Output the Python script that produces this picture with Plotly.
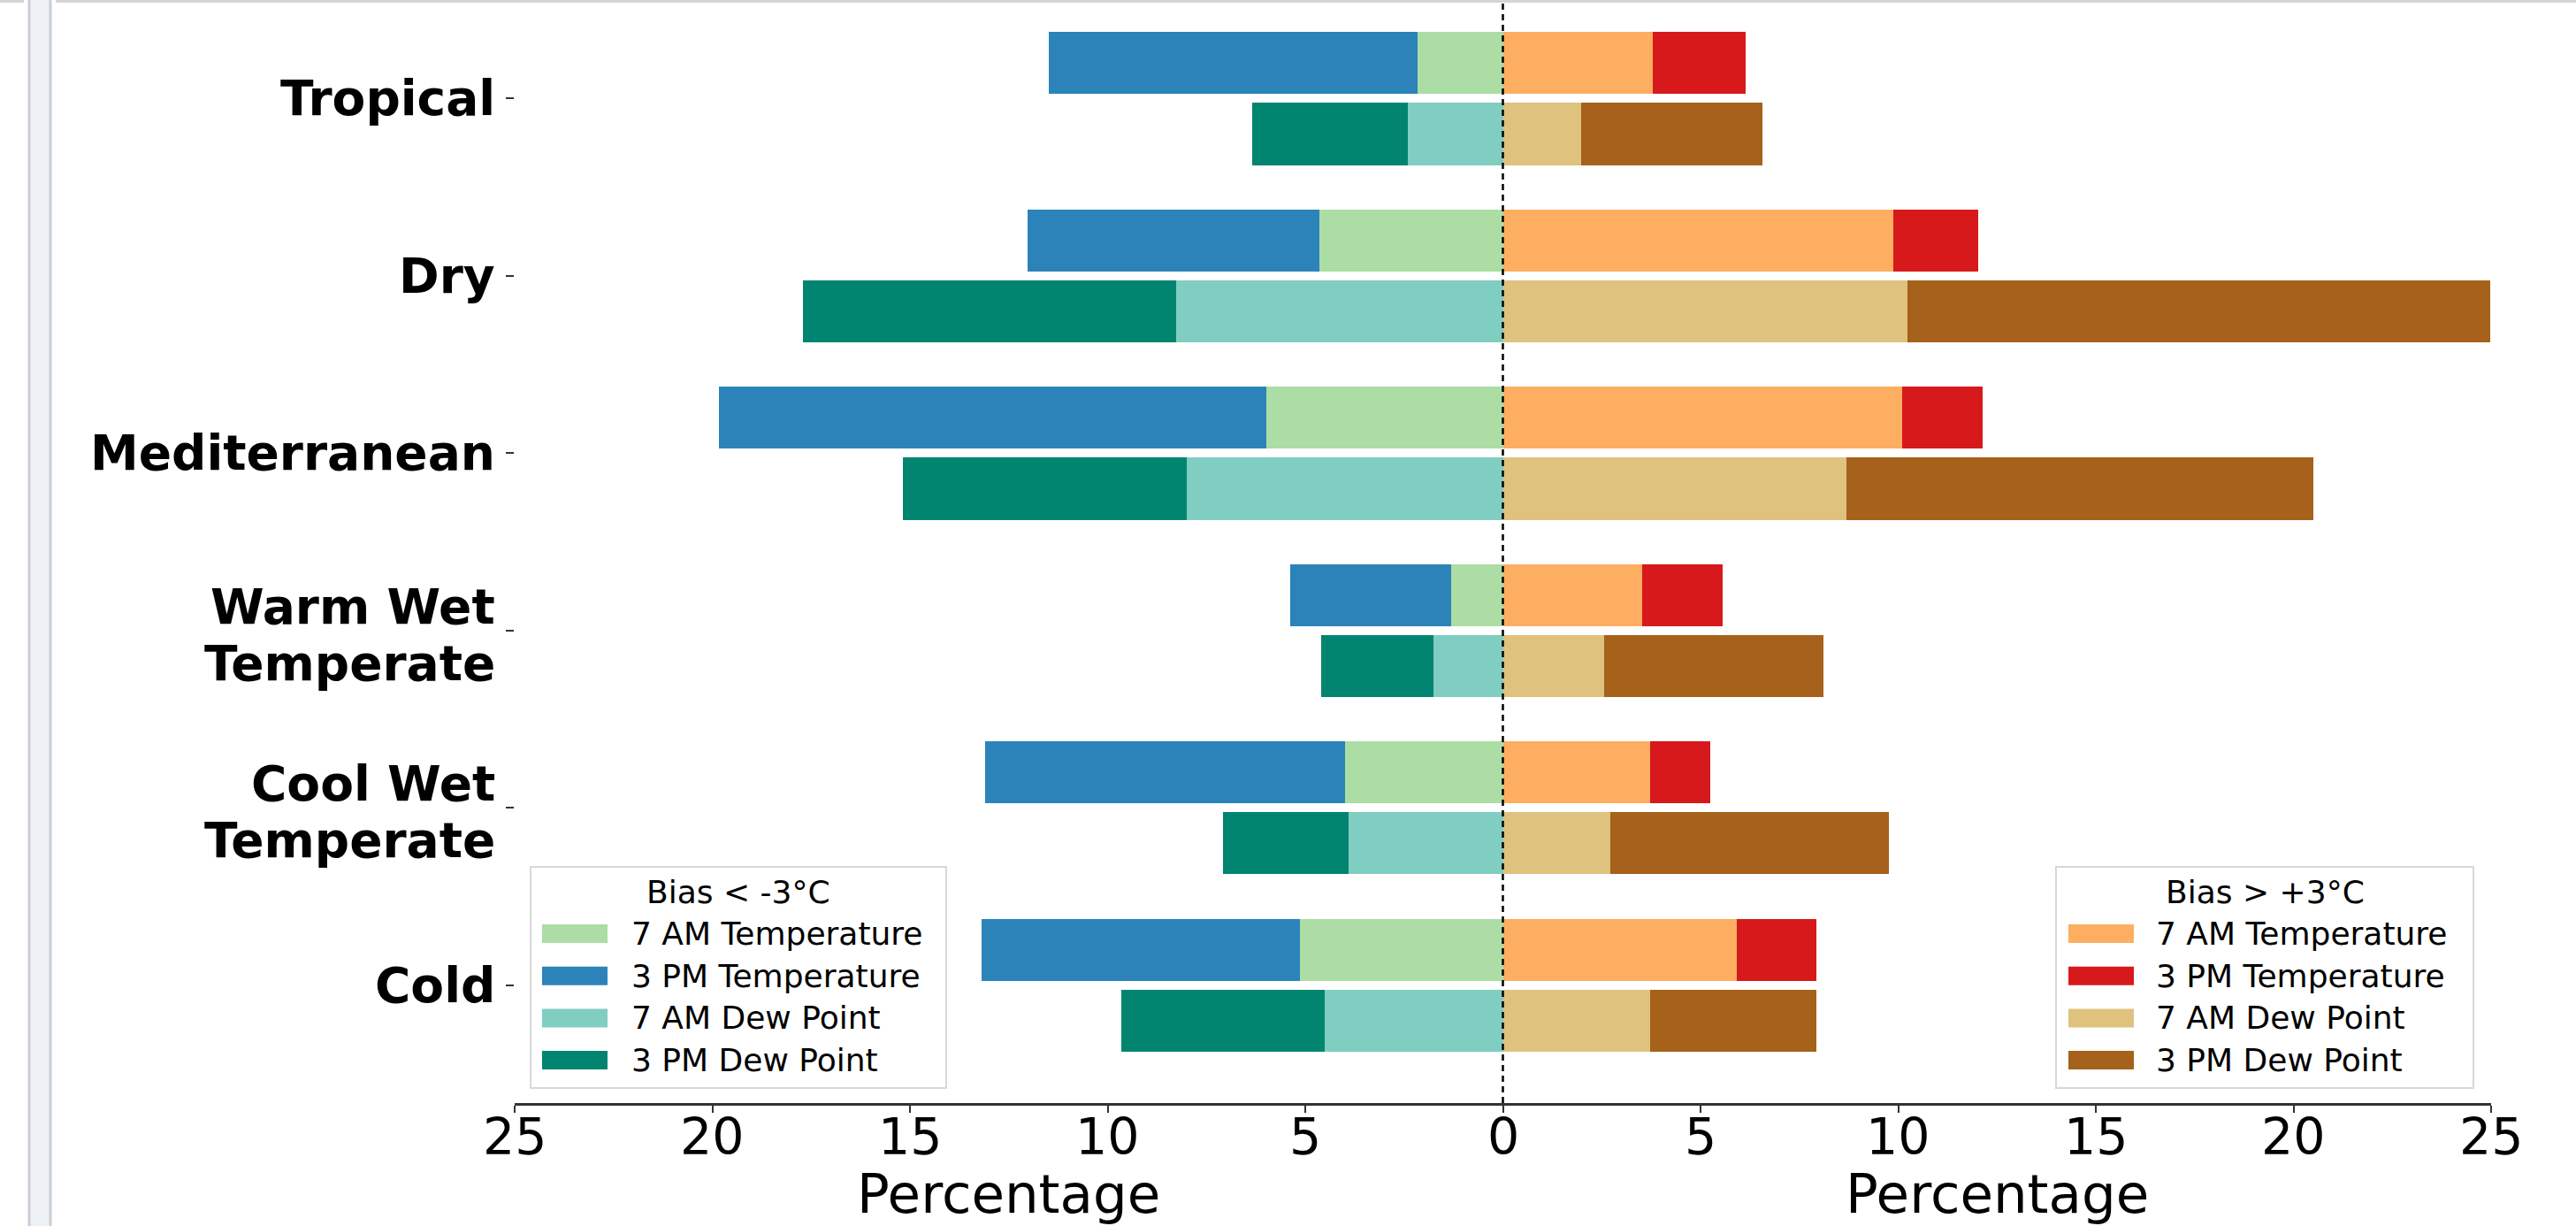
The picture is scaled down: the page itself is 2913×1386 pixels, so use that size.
import plotly.graph_objects as go

# Climate zones (top to bottom); "\n" marks a wrapped label
categories = ["Tropical", "Dry", "Mediterranean", "Warm Wet\nTemperate",
              "Cool Wet\nTemperate", "Cold"]

# Share of stations (%) with bias < -3°C (stacked: 7 AM, then 3 PM on top of it)
cold_temp_7am = [2.16, 4.65, 5.99, 1.31, 3.99, 5.14]
cold_temp_3pm = [9.33, 7.38, 13.84, 4.08, 9.11, 8.04]
cold_dew_7am = [2.41, 8.26, 7.99, 1.75, 3.91, 4.51]
cold_dew_3pm = [3.94, 9.44, 7.19, 2.85, 3.17, 5.15]

# Share of stations (%) with bias > +3°C
warm_temp_7am = [3.80, 9.87, 10.09, 3.53, 3.72, 5.91]
warm_temp_3pm = [2.35, 2.16, 2.05, 2.02, 1.53, 2.02]
warm_dew_7am = [1.97, 10.23, 8.70, 2.57, 2.71, 3.72]
warm_dew_3pm = [4.59, 14.74, 11.81, 5.53, 7.05, 4.21]

x_ticks = [-25, -20, -15, -10, -5, 0, 5, 10, 15, 20, 25]
x_tick_labels = [str(abs(v)) for v in x_ticks]

legend_labels = ["7 AM Temperature", "3 PM Temperature", "7 AM Dew Point", "3 PM Dew Point"]
cold_colors = ["#abdda4", "#2b83ba", "#80cdc1", "#018571"]
warm_colors = ["#fdae61", "#d7191c", "#dfc27d", "#a6611a"]

FONT = "DejaVu Sans"
W, H = 2913, 1386
PLOT_L, PLOT_R, PLOT_T, PLOT_B = 582, 2817, 4, 1247
Y_UNIT_PX = (PLOT_B - PLOT_T) / (5.536 + 0.665)

def px(x):
    return (x - PLOT_L) / (PLOT_R - PLOT_L)

def py(y):
    return (PLOT_B - y) / (PLOT_B - PLOT_T)

n = len(categories)
pos = [n - 1 - i for i in range(n)]
temp_y = [p + 0.2 for p in pos]
dew_y = [p - 0.2 for p in pos]

fig = go.Figure()

series = [
    (temp_y, [-v for v in cold_temp_7am], cold_colors[0]),
    (temp_y, [-v for v in cold_temp_3pm], cold_colors[1]),
    (dew_y, [-v for v in cold_dew_7am], cold_colors[2]),
    (dew_y, [-v for v in cold_dew_3pm], cold_colors[3]),
    (temp_y, warm_temp_7am, warm_colors[0]),
    (temp_y, warm_temp_3pm, warm_colors[1]),
    (dew_y, warm_dew_7am, warm_colors[2]),
    (dew_y, warm_dew_3pm, warm_colors[3]),
]
names = legend_labels + legend_labels
for (yy, xx, col), name in zip(series, names):
    fig.add_trace(go.Bar(
        y=yy, x=xx, orientation="h", width=0.35, name=name,
        marker=dict(color=col, line=dict(width=0)), showlegend=False,
    ))

shapes = []
# zero reference line
shapes.append(dict(type="line", xref="x", yref="paper", x0=0, x1=0, y0=0, y1=1,
                   line=dict(color="black", width=2.5, dash="7px,5px"), layer="above"))

# window frame at the left / top edge
shapes.append(dict(type="rect", xref="paper", yref="paper",
                   x0=px(33), x1=px(57), y0=py(H + 5), y1=py(-5),
                   fillcolor="#eef2f6", line=dict(color="#c9ced6", width=3), layer="below"))
shapes.append(dict(type="rect", xref="paper", yref="paper",
                   x0=px(63), x1=px(W), y0=py(3), y1=py(0),
                   fillcolor="#d4d4d4", line=dict(width=0)))
shapes.append(dict(type="rect", xref="paper", yref="paper",
                   x0=px(0), x1=px(27), y0=py(3), y1=py(0),
                   fillcolor="#d4d4d4", line=dict(width=0)))

annotations = []

def draw_legend(box_x0, box_x1, patch_x0, text_x0, title, colors):
    shapes.append(dict(type="rect", xref="paper", yref="paper",
                       x0=px(box_x0), x1=px(box_x1), y0=py(1230), y1=py(980),
                       fillcolor="rgba(255,255,255,0.85)",
                       line=dict(color="#d8d8d8", width=2), layer="above"))
    annotations.append(dict(xref="paper", yref="paper", x=px((box_x0 + box_x1) / 2),
                            y=py(1008), text=title, showarrow=False,
                            xanchor="center", yanchor="middle",
                            font=dict(family=FONT, size=36, color="black")))
    for k, (lab, col) in enumerate(zip(legend_labels, colors)):
        yc = 1055.5 + 47.7 * k
        shapes.append(dict(type="rect", xref="paper", yref="paper",
                           x0=px(patch_x0), x1=px(patch_x0 + 74),
                           y0=py(yc + 10.5), y1=py(yc - 10.5),
                           fillcolor=col, line=dict(width=0), layer="above"))
        annotations.append(dict(xref="paper", yref="paper", x=px(text_x0), y=py(yc),
                                text=lab, showarrow=False, xanchor="left",
                                yanchor="middle",
                                font=dict(family=FONT, size=36, color="black")))

draw_legend(600, 1070, 613, 712, "Bias &lt; -3°C", cold_colors)
draw_legend(2325, 2797, 2339, 2436, "Bias &gt; +3°C", warm_colors)

# category labels, right-aligned next to the y ticks (wrapped ones on two lines)
for p, cat in zip(pos, categories):
    lines = cat.split("\n")
    offsets = [0.0] if len(lines) == 1 else [27 / Y_UNIT_PX, -37 / Y_UNIT_PX]
    for line, off in zip(lines, offsets):
        annotations.append(dict(xref="paper", yref="y", x=px(561), y=p + off,
                                text=line, showarrow=False, borderpad=0,
                                xanchor="right", yanchor="middle",
                                font=dict(family=FONT, size=55, color="black",
                                          weight="bold")))

# x tick labels (absolute percentages on both halves)
for v, lab in zip(x_ticks, x_tick_labels):
    annotations.append(dict(xref="x", yref="paper", x=v, y=py(1285),
                            text=lab, showarrow=False,
                            xanchor="center", yanchor="middle",
                            font=dict(family=FONT, size=57, color="black")))

# axis titles for each half
for xc in (-12.5, 12.5):
    annotations.append(dict(xref="x", yref="paper", x=xc, y=py(1350),
                            text="Percentage", showarrow=False,
                            xanchor="center", yanchor="middle",
                            font=dict(family=FONT, size=61, color="black")))

fig.update_layout(
    width=W, height=H, autosize=False,
    margin=dict(l=PLOT_L, r=W - PLOT_R, t=PLOT_T, b=H - PLOT_B, pad=0),
    paper_bgcolor="white", plot_bgcolor="white",
    barmode="relative", bargap=0,
    shapes=shapes, annotations=annotations,
    font=dict(family=FONT, color="black"),
    xaxis=dict(range=[-25, 25], tickvals=x_ticks, showticklabels=False,
               showgrid=False, zeroline=False, showline=True,
               linecolor="#333333", linewidth=2.5,
               ticks="outside", ticklen=8, tickwidth=2, tickcolor="#333333"),
    yaxis=dict(range=[-0.665, 5.536], tickvals=pos, showticklabels=False,
               showgrid=False, zeroline=False, showline=False,
               ticks="outside", ticklen=9, tickwidth=2, tickcolor="#333333"),
)

fig.write_html("out.html")
